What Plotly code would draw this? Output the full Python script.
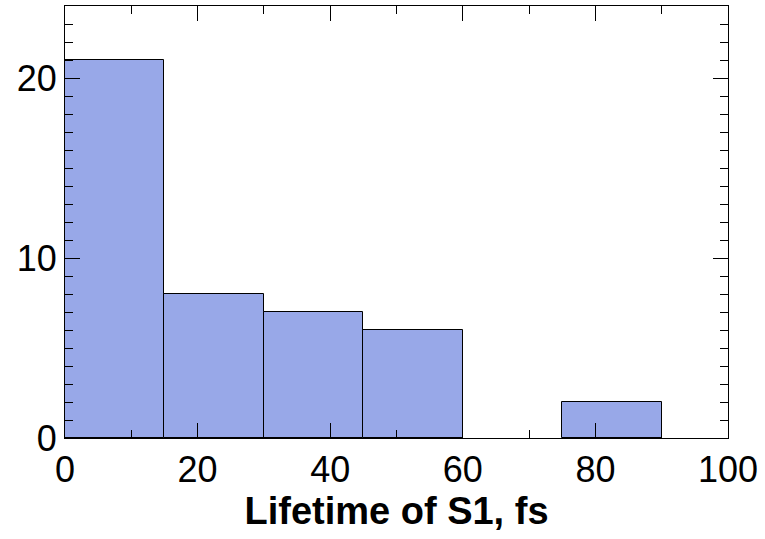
import plotly.graph_objects as go

bin_starts = [0, 15, 30, 45, 60, 75]
bin_width = 15
counts = [21, 8, 7, 6, 0, 2]
x_title = "Lifetime of S1, fs"

fig = go.Figure()
fig.add_trace(go.Bar(
    x=bin_starts, y=counts, width=[bin_width] * len(bin_starts), offset=0,
    marker=dict(color="#98a8e8",
                line=dict(color="black", width=[1 if c > 0 else 0 for c in counts])),
))

font = "Liberation Sans, Arial, Helvetica, sans-serif"
axis_common = dict(
    showline=True, linecolor="black", linewidth=1.2, mirror="ticks",
    ticks="inside", ticklen=15, tickwidth=1.3, tickcolor="black",
    showgrid=False, zeroline=False,
    tickfont=dict(family=font, size=36, color="black"),
)
fig.update_layout(
    width=765, height=539,
    margin=dict(l=65, r=37, t=6, b=101),
    plot_bgcolor="white", paper_bgcolor="white",
    showlegend=False, bargap=0,
)
fig.update_xaxes(
    range=[0, 100], dtick=20, tick0=0,
    minor=dict(dtick=10, ticklen=8, tickwidth=1.2, tickcolor="black", ticks="inside"),
    title=dict(text="<b>" + x_title + "</b>", font=dict(family=font, size=38, color="black"), standoff=0),
    automargin=False,
    **axis_common,
)
fig.update_yaxes(
    range=[0, 24], dtick=10, tick0=0,
    minor=dict(dtick=1, ticklen=8, tickwidth=1.2, tickcolor="black", ticks="inside"),
    automargin=False,
    **axis_common,
)
fig.write_html("out.html", config={"displayModeBar": False},
               post_script="document.body.style.margin='0';document.body.style.overflow='hidden';")
